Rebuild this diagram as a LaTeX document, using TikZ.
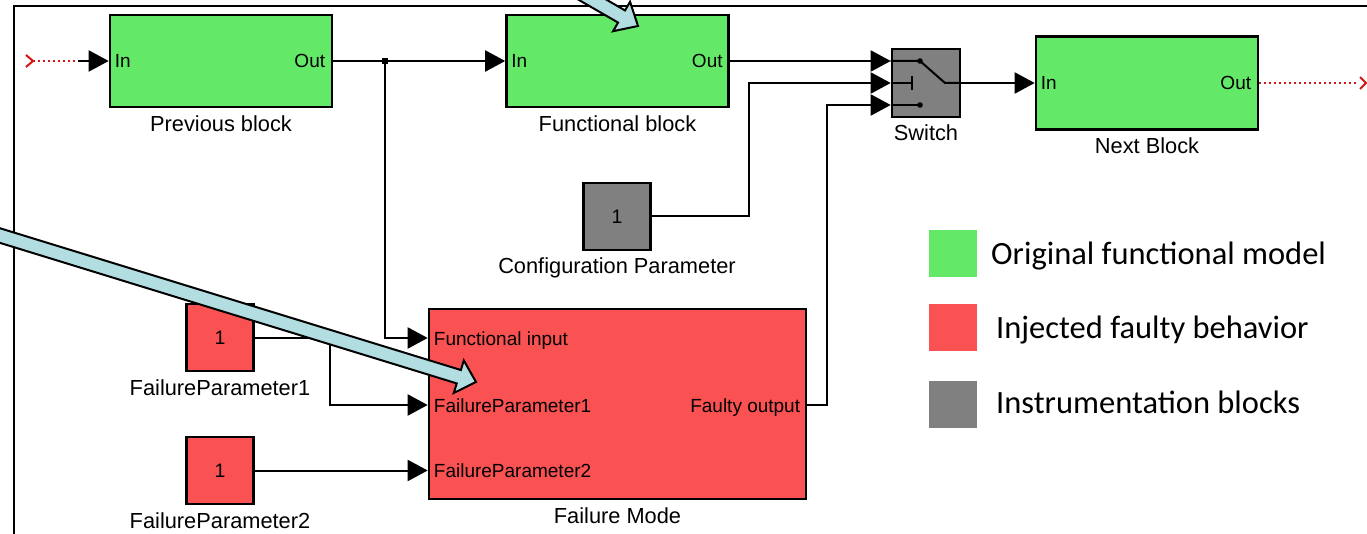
\documentclass[tikz,border=0pt]{standalone}
\usepackage{fontspec}
\setmainfont{Liberation Sans}
\newfontfamily\legendfont{Carlito}
\usetikzlibrary{arrows.meta,calc}

\definecolor{blkgreen}{RGB}{100,232,104}
\definecolor{blkred}{RGB}{250,82,82}
\definecolor{blkgray}{RGB}{128,128,128}
\definecolor{calloutblue}{RGB}{178,222,226}
\definecolor{sigred}{RGB}{215,20,20}

\begin{document}
\begin{tikzpicture}[x=1pt,y=-1pt,
  blockbox/.style={draw=black,line width=2.6pt,inner sep=0pt},
  greenblock/.style={blockbox,fill=blkgreen,minimum width=222pt,minimum height=92pt},
  constblock/.style={blockbox,minimum width=67pt,minimum height=67pt,font=\fontsize{19.5}{22}\selectfont},
  blocklabel/.style={anchor=base,inner sep=0pt,font=\fontsize{21.8}{24}\selectfont},
  portlabel/.style={inner sep=0pt,font=\fontsize{19}{22}\selectfont},
  sigwire/.style={draw=black,line width=2pt},
  sigarrow/.style={sigwire,-{Triangle[length=20pt,width=21pt]}},
  dotwire/.style={draw=sigred,line width=2pt,dash pattern=on 2pt off 3pt},
  chevron/.style={draw=sigred,line width=2pt},
  swatch/.style={minimum width=48pt,minimum height=47pt,inner sep=0pt},
  legendtext/.style={anchor=base west,inner sep=0pt,font=\legendfont\fontsize{32.5}{36}\selectfont},
  callout/.style={fill=calloutblue,draw=black,line width=2pt,line join=miter},
]
\useasboundingbox (0,0) rectangle (1367,534);
\clip (0,0) rectangle (1367,534);

% subsystem frame
\draw[line width=2pt] (1367,6) -- (14,6) -- (14,534);

% blocks
\node[greenblock] (prev) at (221,61) {};
\node[greenblock] (func) at (617.5,61) {};
\node[greenblock,minimum height=93pt] (next) at (1147,83) {};
\node[blockbox,fill=blkgray,minimum size=68pt] (switch) at (926,83) {};
\node[constblock,fill=blkgray] (config) at (617,216.5) {1};
\node[blockbox,fill=blkred,minimum width=377pt,minimum height=190pt] (fmode) at (617.5,404) {};
\node[constblock,fill=blkred] (fp1) at (220,337.5) {1};
\node[constblock,fill=blkred] (fp2) at (220,470.5) {1};

% block names
\node[blocklabel] (prevname) at ($(prev.south)+(0,23)$) {Previous block};
\node[blocklabel] (funcname) at ($(func.south)+(0,23)$) {Functional block};
\node[blocklabel] (nextname) at ($(next.south)+(0,23)$) {Next Block};
\node[blocklabel] (switchname) at ($(switch.south)+(0,22)$) {Switch};
\node[blocklabel] (configname) at ($(config.south)+(0,22)$) {Configuration Parameter};
\node[blocklabel] (fmodename) at ($(fmode.south)+(0,23)$) {Failure Mode};
\node[blocklabel] (fp1name) at ($(fp1.south)+(0,23)$) {FailureParameter1};
\node[blocklabel] (fp2name) at ($(fp2.south)+(0,23)$) {FailureParameter2};

% port names
\node[portlabel,anchor=base west] (previn) at ($(prev.west)+(6,7)$) {In};
\node[portlabel,anchor=base east] (prevout) at ($(prev.east)+(-8,7)$) {Out};
\node[portlabel,anchor=base west] (funcin) at ($(func.west)+(6,7)$) {In};
\node[portlabel,anchor=base east] (funcout) at ($(func.east)+(-7,7)$) {Out};
\node[portlabel,anchor=base west] (nextin) at ($(next.west)+(6,7)$) {In};
\node[portlabel,anchor=base east] (nextout) at ($(next.east)+(-8,7)$) {Out};

% failure mode ports
\coordinate (fmin1) at ($(fmode.west)+(0,-66)$);
\coordinate (fmin2) at ($(fmode.west)+(0,1)$);
\coordinate (fmin3) at ($(fmode.west)+(0,66.5)$);
\coordinate (fmout) at ($(fmode.east)+(0,1)$);
\node[portlabel,anchor=base west] (fmin1name) at ($(fmin1)+(6,7)$) {Functional input};
\node[portlabel,anchor=base west] (fmin2name) at ($(fmin2)+(6,7)$) {FailureParameter1};
\node[portlabel,anchor=base west] (fmin3name) at ($(fmin3)+(6,7)$) {FailureParameter2};
\node[portlabel,anchor=base east] (fmoutname) at ($(fmout)+(-7,7)$) {Faulty output};

% switch ports and symbol
\coordinate (swin1) at ($(switch.west)+(0,-22)$);
\coordinate (swin2) at (switch.west);
\coordinate (swin3) at ($(switch.west)+(0,22)$);
\draw[sigwire] (swin1) -- (920,61) -- (945,83) -- (switch.east);
\draw[sigwire] (swin2) -- (912,83) (912,76) -- (912,90);
\draw[sigwire] (swin3) -- (920,105);
\fill (920,61) circle (2.8);
\fill (920,105) circle (2.8);

% signal source and sink
\coordinate (srcin) at (33,61);
\coordinate (inbreak) at (78,61);
\draw[chevron] (26,55) -- (srcin) -- (26,67);
\draw[dotwire] (srcin) -- (inbreak);
\draw[sigarrow] (inbreak) -- (prev.west);
\coordinate (sinkout) at (1366,83);
\draw[dotwire] (next.east) -- (1359,83);
\draw[chevron] (1360,77) -- (sinkout) -- (1360,89);

% connectors
\coordinate (tap) at (385,61);
\coordinate (cfgbend) at (749,83);
\coordinate (fobend) at (827,105);
\coordinate (fpbend) at (330,405);
\draw[sigarrow] (prev.east) -- (func.west);
\draw[sigarrow] (tap) |- (fmin1);
\draw[sigarrow] (func.east) -- (swin1);
\draw[sigarrow] (config.east) -| (cfgbend) -- (swin2);
\draw[sigarrow] (fmout) -| (fobend) -- (swin3);
\draw[sigarrow] (switch.east) -- (next.west);
\draw[sigarrow] (fp1.east) -| (fpbend) -- (fmin2);
\draw[sigarrow] (fp2.east) -- (fmin3);
\node[fill=black,minimum size=6pt,inner sep=0pt] (tapdot) at (tap) {};

% legend
\node[swatch,fill=blkgreen] (keygreen) at (953,254) {};
\node[swatch,fill=blkred] (keyred) at (953,327.5) {};
\node[swatch,fill=blkgray] (keygray) at (953,404) {};
\node[legendtext] (keygreentext) at (991,265) {Original functional model};
\node[legendtext] (keyredtext) at (996,338) {Injected faulty behavior};
\node[legendtext] (keygraytext) at (996,413) {Instrumentation blocks};

% callout arrows
\begin{scope}[shift={(638,26)},rotate=-30]
  \draw[callout] (-300,-7) -- (-19,-7) -- (-19,-17) -- (0,0) -- (-19,17) -- (-19,7) -- (-300,7) -- cycle;
\end{scope}
\begin{scope}[shift={(476,382)},rotate=-17.1]
  \draw[callout] (-700,-7) -- (-18,-7) -- (-18,-17) -- (0,0) -- (-18,17) -- (-18,7) -- (-700,7) -- cycle;
\end{scope}
\end{tikzpicture}
\end{document}
